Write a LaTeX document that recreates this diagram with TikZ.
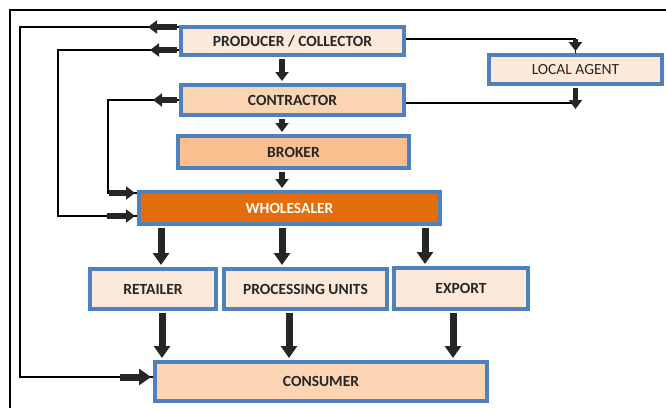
\documentclass[tikz,border=0pt]{standalone}
\usepackage{fontspec}
\setmainfont{Carlito}
\usetikzlibrary{arrows.meta,calc}

\definecolor{boxblue}{HTML}{4F81BD}
\definecolor{paleorange}{HTML}{FDE9D9}
\definecolor{lightorange}{HTML}{FBD4B4}
\definecolor{midorange}{HTML}{FAC090}
\definecolor{deeporange}{HTML}{E46C0A}

\begin{document}
\begin{tikzpicture}[x=1pt, y=-1pt]

% Stili
\tikzstyle{box} = [rectangle, draw=boxblue, line width=4pt, inner sep=0pt,
    text=black!85, font=\fontsize{15.5}{18}\selectfont\bfseries]
\tikzstyle{link} = [line width=1.5pt, black]
\tikzstyle{fat} = [line width=7pt, draw=black!85, shorten <=2pt, shorten >=2pt,
    -{Triangle[length=12pt,width=16pt]}]
\tikzstyle{fatsmall} = [line width=5.5pt, draw=black!85, shorten <=2pt, shorten >=2pt,
    -{Triangle[length=9pt,width=13pt]}]

\useasboundingbox (0,0) rectangle (666,408);

% Cornice
\draw[link] (10,408) -- (10,10) -- (666,10);

% Nodi
\node (prod) [box, fill=paleorange, minimum width=223, minimum height=28] at (292.5,41) {PRODUCER / COLLECTOR};
\node (agent) [box, fill=paleorange, minimum width=173, minimum height=29, font=\fontsize{15.5}{18}\selectfont] at (575.5,69.5) {LOCAL AGENT};
\node (cont) [box, fill=lightorange, minimum width=223, minimum height=30] at (292.5,100) {CONTRACTOR};
\node (brok) [box, fill=midorange, minimum width=231, minimum height=32] at (293.5,152) {BROKER};
\node (whole) [box, fill=deeporange, minimum width=301, minimum height=32, text=white] at (289.5,208) {WHOLESALER};
\node (ret) [box, fill=paleorange, minimum width=126, minimum height=40] at (153,289) {RETAILER};
\node (proc) [box, fill=paleorange, minimum width=163, minimum height=40] at (305.5,289) {PROCESSING UNITS};
\node (exp) [box, fill=paleorange, minimum width=134, minimum height=41] at (461,288.5) {EXPORT};
\node (cons) [box, fill=lightorange, minimum width=332, minimum height=39] at (321,381.5) {CONSUMER};

% Colonne delle frecce
\coordinate (spine) at (282,0);
\coordinate (retin) at (161,0);
\coordinate (procin) at (282,0);
\coordinate (expin) at (425,0);
\coordinate (retout) at (162,0);
\coordinate (procout) at (289,0);
\coordinate (expout) at (453,0);

% Frecce verticali
\draw[fatsmall] (spine |- prod.south) -- (spine |- cont.north);
\draw[fatsmall] (spine |- cont.south) -- (spine |- brok.north);
\draw[fatsmall] (spine |- brok.south) -- (spine |- whole.north);
\draw[fat] (retin |- whole.south) -- (retin |- ret.north);
\draw[fat] (procin |- whole.south) -- (procin |- proc.north);
\draw[fat] (expin |- whole.south) -- (expin |- exp.north);
\draw[fat] (retout |- ret.south) -- (retout |- cons.north);
\draw[fat] (procout |- proc.south) -- (procout |- cons.north);
\draw[fat] (expout |- exp.south) -- (expout |- cons.north);

% Anelli a sinistra
\draw[link] ($(prod.west)+(0,-14)$) -- ++(-159,0) |- ($(cons.west)+(0,-4.5)$);
\draw[fatsmall] ($(prod.west)+(0,-14)$) -- ++(-33,0);
\draw[fat] ($(cons.west)+(-35,-4.5)$) -- ($(cons.west)+(0,-4.5)$);

\draw[link] ($(prod.west)+(0,9)$) -- ++(-121,0) |- ($(whole.west)+(0,8)$);
\draw[fatsmall] ($(prod.west)+(0,9)$) -- ++(-31,0);
\draw[fatsmall] ($(whole.west)+(-32,8)$) -- ($(whole.west)+(0,8)$);

\draw[link] (cont.west) -- ++(-71,0) |- ($(whole.west)+(0,-15)$);
\draw[fatsmall] (cont.west) -- ++(-28,0);
\draw[fatsmall] ($(whole.west)+(-30,-15)$) -- ($(whole.west)+(0,-15)$);

% Agente locale
\draw[link] ($(prod.east)+(0,-2)$) -| (agent.north);
\draw[fatsmall] ($(agent.north)+(0,-16)$) -- (agent.north);
\draw[link] ($(cont.east)+(0,3)$) -| ($(agent.south)+(0,19)$);
\draw[fatsmall] (agent.south) -- ++(0,25);

\end{tikzpicture}
\end{document}
